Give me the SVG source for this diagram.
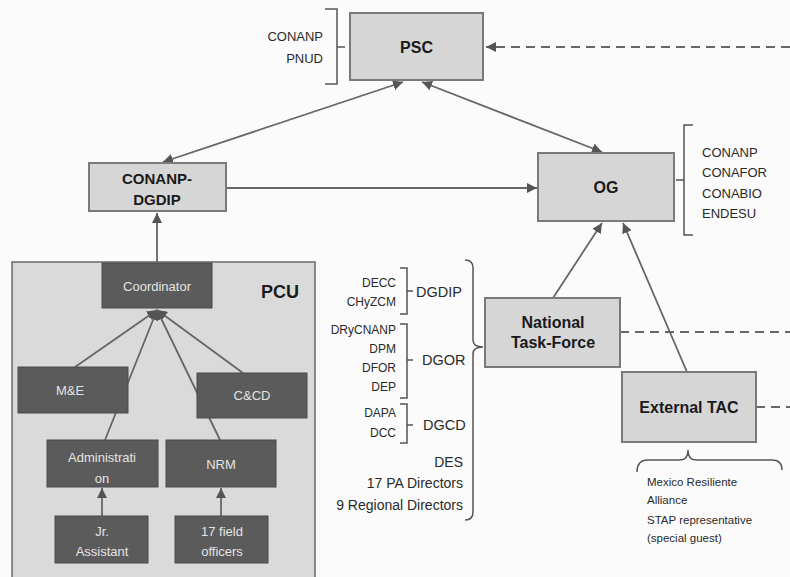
<svg xmlns="http://www.w3.org/2000/svg" width="790" height="577" viewBox="0 0 790 577">
<style>
.box{fill:#d6d6d6;stroke:#7a7a7a;stroke-width:2}
.dark{fill:#5b5b5b;stroke:#4a4a4a;stroke-width:1}
.pcu{fill:#dadada;stroke:#6a6a6a;stroke-width:1.5}
.t{font-family:"Liberation Sans",Arial,sans-serif;fill:#2a2a2a}
.b{font-weight:bold;fill:#1a1a1a}
.w{font-family:"Liberation Sans",Arial,sans-serif;fill:#e4e4e4;font-size:13px;text-anchor:middle}
.ln{fill:none;stroke:#666;stroke-width:1.8}
.ds{fill:none;stroke:#666;stroke-width:1.8;stroke-dasharray:9 6}
.br{fill:none;stroke:#555;stroke-width:1.5}
</style>
<defs>
<marker id="ah" viewBox="0 0 10 10" refX="10" refY="5" markerWidth="10" markerHeight="10" markerUnits="userSpaceOnUse" orient="auto-start-reverse">
<path d="M0,0 L10,5 L0,10 z" fill="#555"/>
</marker>
</defs>
<rect width="790" height="577" fill="#fbfbfb"/>

<g id="pcu">
<rect class="pcu" x="12" y="262" width="303" height="330"/>
<text class="t b" x="280" y="298" font-size="18" text-anchor="middle">PCU</text>
</g>

<g id="connectors">
<line class="ds" x1="790" y1="47" x2="486" y2="47" marker-end="url(#ah)"/>
<line class="ln" x1="403" y1="82" x2="163" y2="162" marker-start="url(#ah)" marker-end="url(#ah)"/>
<line class="ln" x1="422" y1="82" x2="602" y2="152" marker-start="url(#ah)" marker-end="url(#ah)"/>
<line class="ln" x1="226" y1="188" x2="537" y2="188" marker-end="url(#ah)"/>
<line class="ln" x1="157" y1="262" x2="157" y2="213" marker-end="url(#ah)"/>
<line class="ln" x1="553" y1="298" x2="602" y2="223" marker-end="url(#ah)"/>
<line class="ln" x1="687" y1="372" x2="623" y2="223" marker-end="url(#ah)"/>
<line class="ds" x1="620" y1="332" x2="790" y2="332"/>
<line class="ds" x1="756" y1="407" x2="790" y2="407"/>
<line class="ln" x1="75" y1="367" x2="157" y2="310" marker-end="url(#ah)"/>
<line class="ln" x1="105" y1="440" x2="157" y2="310" marker-end="url(#ah)"/>
<line class="ln" x1="220" y1="440" x2="157" y2="310" marker-end="url(#ah)"/>
<line class="ln" x1="243" y1="373" x2="157" y2="310" marker-end="url(#ah)"/>
<line class="ln" x1="102" y1="516" x2="102" y2="488" marker-end="url(#ah)"/>
<line class="ln" x1="221" y1="516" x2="221" y2="488" marker-end="url(#ah)"/>
</g>

<g id="psc">
<rect class="box" x="350" y="13" width="133" height="67"/>
<text class="t b" x="416.5" y="53" font-size="16" text-anchor="middle">PSC</text>
</g>
<g id="psc-members">
<path class="br" d="M325,9 H337 V84 H325 M337,47 H345"/>
<text class="t" x="323" y="41" font-size="13" text-anchor="end">CONANP</text>
<text class="t" x="323" y="63" font-size="13" text-anchor="end">PNUD</text>
</g>

<g id="og">
<rect class="box" x="538" y="153" width="136" height="68"/>
<text class="t b" x="606" y="193" font-size="16" text-anchor="middle">OG</text>
</g>
<g id="og-members">
<path class="br" d="M693,125 H684 V235 H693 M684,180 H676"/>
<g class="t" font-size="13">
<text x="702" y="157">CONANP</text>
<text x="702" y="177">CONAFOR</text>
<text x="702" y="198">CONABIO</text>
<text x="702" y="218">ENDESU</text>
</g>
</g>

<g id="conanp-dgdip">
<rect class="box" x="89" y="163" width="137" height="48"/>
<text class="t b" x="157" y="184" font-size="15" text-anchor="middle">CONANP-</text>
<text class="t b" x="157" y="205" font-size="15" text-anchor="middle">DGDIP</text>
</g>

<g id="coordinator">
<rect class="dark" x="102" y="263" width="110" height="45"/>
<text class="w" x="157" y="291">Coordinator</text>
</g>
<g id="me">
<rect class="dark" x="18" y="367" width="110" height="46"/>
<text class="w" x="70" y="395">M&amp;E</text>
</g>
<g id="ccd">
<rect class="dark" x="197" y="373" width="110" height="45"/>
<text class="w" x="252" y="400">C&amp;CD</text>
</g>
<g id="administration">
<rect class="dark" x="47" y="440" width="111" height="47"/>
<text class="w" x="102" y="462">Administrati</text>
<text class="w" x="102" y="483">on</text>
</g>
<g id="nrm">
<rect class="dark" x="166" y="440" width="110" height="47"/>
<text class="w" x="221" y="469">NRM</text>
</g>
<g id="jr-assistant">
<rect class="dark" x="55" y="516" width="93" height="47"/>
<text class="w" x="102" y="536">Jr.</text>
<text class="w" x="102" y="556">Assistant</text>
</g>
<g id="field-officers">
<rect class="dark" x="175" y="516" width="93" height="47"/>
<text class="w" x="222" y="536">17 field</text>
<text class="w" x="222" y="556">officers</text>
</g>

<g id="conanp-units">
<path class="br" d="M400,268 H407 V314 H400 M407,291 H413"/>
<path class="br" d="M400,324 H407 V398 H400 M407,360 H413"/>
<path class="br" d="M400,404 H407 V443 H400 M407,425 H413"/>
<g class="t" font-size="12" text-anchor="end">
<text x="396" y="287">DECC</text>
<text x="396" y="306">CHyZCM</text>
<text x="396" y="334">DRyCNANP</text>
<text x="396" y="353">DPM</text>
<text x="396" y="372">DFOR</text>
<text x="396" y="391">DEP</text>
<text x="396" y="417">DAPA</text>
<text x="396" y="437">DCC</text>
</g>
<g class="t" font-size="14.5">
<text x="416" y="297">DGDIP</text>
<text x="422" y="365">DGOR</text>
<text x="423" y="430">DGCD</text>
</g>
<g class="t" font-size="14" text-anchor="end">
<text x="463" y="467">DES</text>
<text x="463" y="488">17 PA Directors</text>
<text x="463" y="510">9 Regional Directors</text>
</g>
<path class="br" d="M465,260 Q473,260 473,268 V340 Q473,347 483,347 Q473,347 473,354 V512 Q473,520 465,520"/>
</g>

<g id="national-task-force">
<rect class="box" x="485" y="298" width="135" height="69"/>
<text class="t b" x="553" y="328" font-size="16" text-anchor="middle">National</text>
<text class="t b" x="553" y="348" font-size="16" text-anchor="middle">Task-Force</text>
</g>

<g id="external-tac">
<rect class="box" x="622" y="372" width="134" height="70"/>
<text class="t b" x="689" y="413" font-size="16" text-anchor="middle">External TAC</text>
</g>
<g id="tac-members">
<path class="br" d="M637,472 Q637,460 648,460 H680 Q688,460 688,450 Q688,460 696,460 H772 Q782,460 782,470"/>
<g class="t" font-size="11.5">
<text x="647" y="486">Mexico Resiliente</text>
<text x="647" y="504">Alliance</text>
<text x="647" y="524">STAP representative</text>
<text x="647" y="542">(special guest)</text>
</g>
</g>
</svg>
